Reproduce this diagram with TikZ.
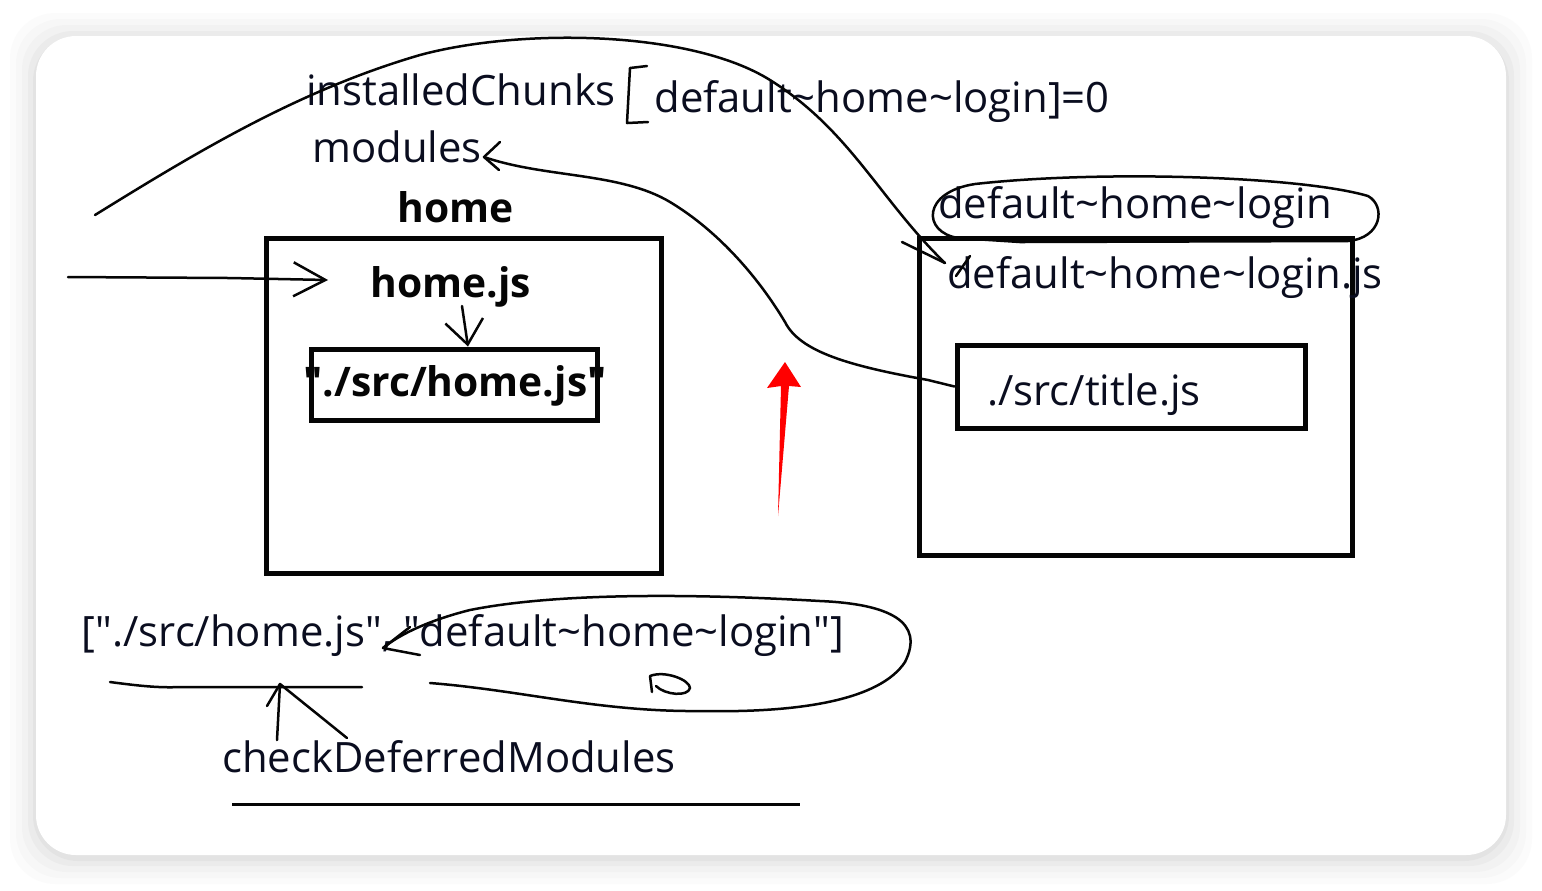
\documentclass[tikz,border=0pt]{standalone}
\usepackage{fontspec}
\setmainfont{Open Sans}
\usepackage{tikz}
\usetikzlibrary{positioning, calc, arrows.meta}
\definecolor{ShadowColor}{rgb}{0.6,0.6,0.6}
\definecolor{InkColor}{rgb}{0.02,0.02,0.02}
\definecolor{TextColor}{rgb}{0.04,0.05,0.12}
\definecolor{MarkColor}{rgb}{1.0,0.0,0.0}
\newcommand{\tld}{\textasciitilde}
\newcommand{\qd}{\textquotedbl}
\tikzset{
    chunkbox/.style={
        shape=rectangle,
        draw=InkColor,
        line width=0.5mm,
        inner sep=0pt
    },
    txt/.style={text=TextColor, inner sep=0pt},
    boldtxt/.style={text=InkColor, inner sep=0pt, font=\fontsize{11.6}{13}\selectfont\bfseries},
    hand/.style={draw=InkColor, line width=0.25mm, line cap=round, line join=round},
    handtip/.style={-{Straight Barb[length=3.2mm, width=3.4mm]}}
}

\begin{document}
\begin{tikzpicture}[x=0.1mm, y=-0.1mm, font=\fontsize{11.9}{13}\selectfont]

\useasboundingbox (0,0) rectangle (1542,890);

% Card and shadow
\fill[white] (0,0) rectangle (1542,890);
\foreach \d/\o in {26/0.03, 20/0.04, 14/0.05, 8/0.07, 3/0.09}
    \fill[ShadowColor, opacity=\o, rounded corners=4.5mm] (36-\d,36-\d+3) rectangle (1506+\d,855+\d+3);
\fill[white, rounded corners=4mm] (36,36) rectangle (1506,855);

% Top texts
\node[txt] (chunks) at (461,90) {installedChunks};
\node[txt] (modules) at (397,147) {modules};
\node[txt] (loaded) at (882,102) {default\tld home\tld login]=0};
\draw[hand] (647,66) -- (630,68) -- (627,123) -- (648,122);

% Home chunk
\node[boldtxt] (home) at (456,207) {home};
\node[chunkbox, minimum width=39.5mm, minimum height=33.5mm] (homebox) at (463.5,405.5) {};
\node[boldtxt] (homejs) at (451,287) {home.js};
\node[chunkbox, minimum width=28.6mm, minimum height=7.1mm] (homesrc) at (454,384.5) {};
\node[boldtxt] (homesrctxt) at (455,386) {\qd./src/home.js\qd};

% Vendor chunk
\node[txt] (vendor) at (1135,208) {default\tld home\tld login};
\node[chunkbox, minimum width=43.3mm, minimum height=31.7mm] (vendorbox) at (1135.5,396.5) {};
\node[txt] (vendorjs) at (1165,278) {default\tld home\tld login.js};
\node[chunkbox, minimum width=34.8mm, minimum height=8.3mm] (titlesrc) at (1131,386.5) {};
\node[txt] (titletxt) at (1094,395) {./src/title.js};

% Hand ring round the chunk name
\draw[hand] (1020,242) -- (958,238) .. controls (922,232) and (922,192) .. (975,184)
    .. controls (1100,170) and (1300,176) .. (1368,196) .. controls (1386,206) and (1382,238) .. (1348,241) -- cycle;

% Deferred list
\node[txt] (deferred) at (463,636) {[\qd./src/home.js\qd, \qd default\tld home\tld login\qd]};
\node[txt] (checker) at (449,757) {checkDeferredModules};
\draw[InkColor, line width=0.3mm] (232,804) -- (800,804);

% Hand strokes
\coordinate (start) at (95,215);
\coordinate (jstip) at (945,263);
\draw[hand] (start) .. controls (200,150) and (300,90) .. (420,55)
    .. controls (520,28) and (690,30) .. (770,80)
    .. controls (850,130) and (880,200) .. (jstip);
\draw[hand] (902,242) -- (jstip);
\draw[hand] (970,256) -- (956,276);

\coordinate (modtip) at (484,157);
\draw[hand] (titlesrc.west) -- (928,380) .. controls (850,366) and (800,352) .. (785,322)
    .. controls (760,280) and (720,232) .. (670,202)
    .. controls (620,172) and (545,178) .. (modtip);
\draw[hand] (500,142) -- (modtip) -- (499,170);

\coordinate (entry) at (68,277);
\draw[hand, handtip] (entry) -- (230,278) -- ($(homejs.west)+(-42,-7)$);
\draw[hand, -{Straight Barb[length=2.4mm, width=3.8mm]}] (462,306) -- (homesrc.north -| 468,0);

% Red arrow
\fill[MarkColor] (778,516) -- (781,386) -- (767,388) -- (785,362) -- (801,387) -- (789,386) -- cycle;

% Bottom loop
\coordinate (commatip) at (383,648);
\draw[hand] (430,683) .. controls (520,690) and (600,712) .. (700,711)
    .. controls (800,713) and (880,700) .. (905,662)
    .. controls (925,622) and (890,604) .. (820,601)
    .. controls (700,594) and (560,592) .. (470,610)
    .. controls (430,620) and (400,634) .. (commatip);
\draw[hand] (410,627) -- (commatip) -- (420,655);
\draw[hand] (652,692) -- (650,676) .. controls (665,670) and (690,680) .. (690,688)
    .. controls (688,697) and (665,695) .. (656,686);

\draw[hand] (110,682) .. controls (140,686) and (160,688) .. (180,687) -- (362,687);
\coordinate (uptip) at (280,684);
\draw[hand] (277,740) -- (uptip) -- (347,738);
\draw[hand] (267,706) -- (uptip);

\end{tikzpicture}
\end{document}
